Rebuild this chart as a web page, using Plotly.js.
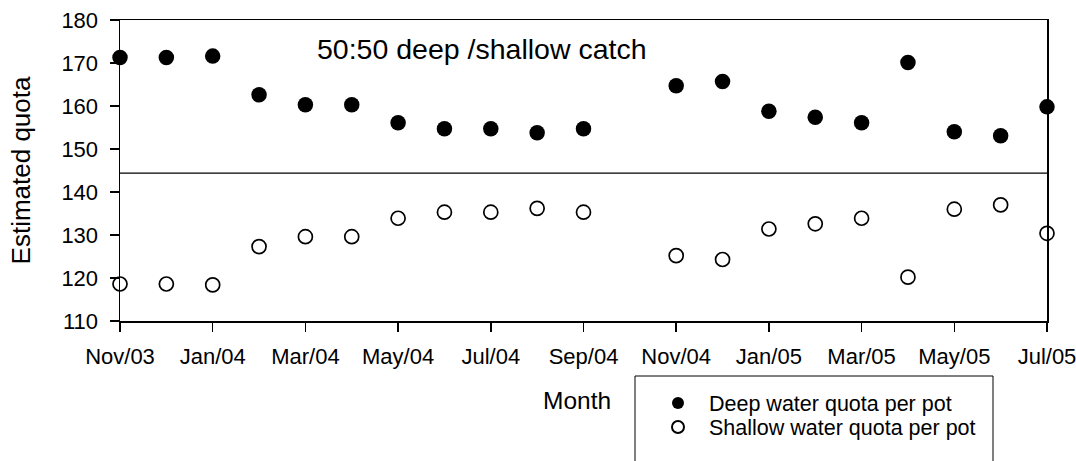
<!DOCTYPE html>
<html><head><meta charset="utf-8">
<script src="https://cdn.plot.ly/plotly-3.0.1.min.js"></script>
<style>html,body{margin:0;padding:0;background:#fff}#chart{width:1076px;height:461px}</style>
</head><body><div id="chart"></div>
<script>
// month index 0 = Nov/03
const monthIdx = [0,1,2,3,4,5,6,7,8,9,10,12,13,14,15,16,17,18,19,20];
const deepQuota = [171.3,171.3,171.6,162.6,160.3,160.3,156.1,154.7,154.7,153.8,154.7,164.7,165.7,158.8,157.4,156.1,170.1,154.0,153.1,159.8];
const shallowQuota = [118.6,118.6,118.4,127.3,129.6,129.6,133.9,135.3,135.3,136.2,135.3,125.2,124.3,131.4,132.6,133.9,120.2,136.0,137.0,130.4];
const tickPos = [0,2,4,6,8,10,12,14,16,18,20];
const tickLabels = ["Nov/03","Jan/04","Mar/04","May/04","Jul/04","Sep/04","Nov/04","Jan/05","Mar/05","May/05","Jul/05"];
const yTicks = [110,120,130,140,150,160,170,180];
const refLine = 144.4;

const font = "Liberation Sans, Arial, sans-serif";
const px = v => (v - 120) / 927;       // helper: pixel -> paper x
const py = v => (321 - v) / 301;       // helper: pixel -> paper y
const traces = [
  {x: monthIdx, y: deepQuota, type:'scatter', mode:'markers', name:'Deep water quota per pot', legend:'legend',
   cliponaxis:false, marker:{symbol:'circle', size:15.5, color:'#000', line:{color:'#000', width:0}}},
  {x: monthIdx, y: shallowQuota, type:'scatter', mode:'markers', name:'Shallow water quota per pot', legend:'legend2',
   cliponaxis:false, marker:{symbol:'circle', size:14, color:'#fff', line:{color:'#000', width:1.7}}}
];
const legStyle = {xanchor:'left', yanchor:'middle', bgcolor:'rgba(0,0,0,0)', borderwidth:0,
  font:{family:font, size:21.5, color:'#000'}, itemsizing:'constant', itemwidth:52};
const layout = {
  width:1076, height:461,
  margin:{l:120, r:29, t:20, b:140},
  paper_bgcolor:'#fff', plot_bgcolor:'#fff',
  font:{family:font, size:22, color:'#000'},
  showlegend:true,
  legend:Object.assign({x:px(647), y:py(403)}, legStyle),
  legend2:Object.assign({x:px(647), y:py(427)}, legStyle),
  xaxis:{range:[0,20], tickvals:tickPos, ticktext:tickLabels, showgrid:false, zeroline:false,
         showline:true, linecolor:'#000', linewidth:1.5, mirror:true, ticks:'outside', ticklen:9, tickwidth:1.5,
         tickcolor:'#000', ticklabelstandoff:6, ticklabeloverflow:'allow', tickfont:{family:font, size:22}},
  yaxis:{range:[110,180], tickvals:yTicks, showgrid:false, zeroline:false,
         showline:true, linecolor:'#000', linewidth:1.5, mirror:true, ticks:'outside', ticklen:9, tickwidth:1.5,
         tickcolor:'#000', ticklabelstandoff:7, tickfont:{family:font, size:22},
         title:{text:'Estimated quota', font:{family:font, size:26}, standoff:23}},
  shapes:[
    {type:'line', xref:'x', yref:'y', x0:0, x1:20, y0:refLine, y1:refLine, line:{color:'#000', width:1.2}},
    {type:'rect', xref:'paper', yref:'paper', x0:px(635), x1:px(993), y0:py(376), y1:-0.7,
     line:{color:'#000', width:1}, fillcolor:'rgba(0,0,0,0)'}
  ],
  annotations:[
    {text:'50:50 deep /shallow catch', xref:'paper', yref:'paper', x:px(482), y:py(49),
     showarrow:false, font:{family:font, size:28.5}, xanchor:'center', yanchor:'middle'},
    {text:'Month', xref:'paper', yref:'paper', x:px(577), y:py(400),
     showarrow:false, font:{family:font, size:24.5}, xanchor:'center', yanchor:'middle'}
  ]
};
Plotly.newPlot('chart', traces, layout, {displayModeBar:false, staticPlot:true});
</script></body></html>
